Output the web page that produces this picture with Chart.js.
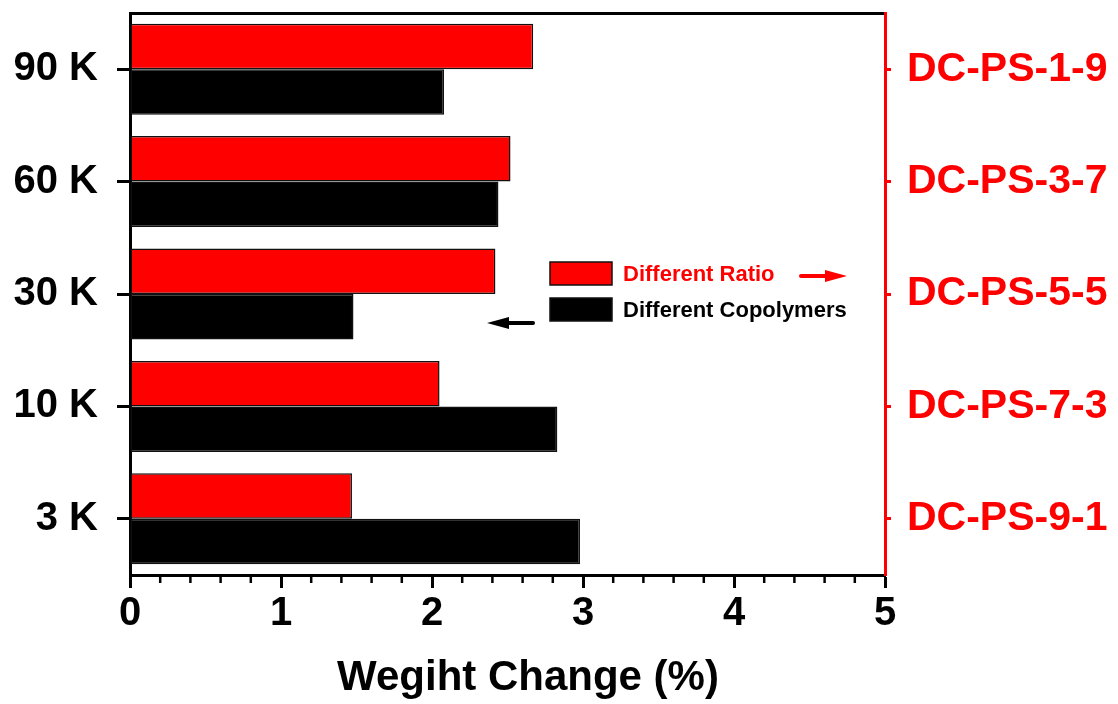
<!DOCTYPE html>
<html>
<head>
<meta charset="utf-8">
<title>Weight change</title>
<script src="https://cdn.jsdelivr.net/npm/chart.js@4.4.0/dist/chart.umd.min.js"></script>
<style>
  html, body { margin: 0; padding: 0; background: #fff; }
  #main { width: 1118px; height: 704px; }
</style>
</head>
<body>
<div id="main"><canvas id="chart"></canvas></div>
<script>
'use strict';
var copolymers = ['90 K', '60 K', '30 K', '10 K', '3 K'];
var ratios = ['DC-PS-1-9', 'DC-PS-3-7', 'DC-PS-5-5', 'DC-PS-7-3', 'DC-PS-9-1'];
var ratioChange = [2.67, 2.52, 2.42, 2.05, 1.47];
var copolymerChange = [2.08, 2.44, 1.48, 2.83, 2.98];
var xTicks = [0, 1, 2, 3, 4, 5];
var xTitle = 'Wegiht Change (%)';
var legendLabels = ['Different Ratio', 'Different Copolymers'];

var FONT = '"Liberation Sans", Arial, sans-serif';
var RED = '#ff0000';
var BLACK = '#000000';

function bold(size) {
  return { family: FONT, size: size, weight: 'bold' };
}

// short ticks between the labelled ones on the x axis
var minorTicks = {
  id: 'minorTicks',
  afterDraw: function(chart) {
    var ctx = chart.ctx;
    var x = chart.scales.x;
    var y0 = chart.chartArea.bottom;
    ctx.save();
    ctx.strokeStyle = BLACK;
    ctx.lineWidth = 2.5;
    for (var i = 0; i < xTicks.length - 1; i++) {
      for (var k = 1; k < 5; k++) {
        var px = x.getPixelForValue(xTicks[i] + (xTicks[i + 1] - xTicks[i]) * k / 5);
        ctx.beginPath();
        ctx.moveTo(px, y0);
        ctx.lineTo(px, y0 + 8);
        ctx.stroke();
      }
    }
    ctx.restore();
  }
};

function arrow(ctx, x1, x2, y, color) {
  var dir = x2 > x1 ? 1 : -1;
  ctx.strokeStyle = color;
  ctx.fillStyle = color;
  ctx.lineWidth = 4;
  ctx.lineCap = 'round';
  ctx.beginPath();
  ctx.moveTo(x1, y);
  ctx.lineTo(x2 - dir * 16, y);
  ctx.stroke();
  ctx.beginPath();
  ctx.moveTo(x2, y);
  ctx.lineTo(x2 - dir * 22, y - 6);
  ctx.lineTo(x2 - dir * 22, y + 6);
  ctx.closePath();
  ctx.fill();
}

// legend inside the plot and the axis title
var boxLegend = {
  id: 'boxLegend',
  afterDraw: function(chart) {
    var ctx = chart.ctx;
    var colors = [RED, BLACK];
    var rows = [273, 309];
    ctx.save();
    ctx.font = 'bold 22px ' + FONT;
    ctx.textBaseline = 'middle';
    ctx.textAlign = 'left';
    for (var i = 0; i < 2; i++) {
      ctx.fillStyle = colors[i];
      ctx.fillRect(550, rows[i] - 11, 62, 23);
      ctx.strokeStyle = '#111';
      ctx.lineWidth = 1.5;
      ctx.strokeRect(550, rows[i] - 11, 62, 23);
      ctx.fillStyle = colors[i];
      ctx.fillText(legendLabels[i], 623, rows[i] + 2);
    }
    arrow(ctx, 801, 847, 276, RED);
    arrow(ctx, 533, 487, 323, BLACK);

    ctx.fillStyle = BLACK;
    ctx.font = 'bold 42px ' + FONT;
    ctx.textAlign = 'center';
    ctx.textBaseline = 'alphabetic';
    ctx.fillText(xTitle, 528, 690);
    ctx.restore();
  }
};

function fitSide(width) {
  return function(scale) {
    scale.width = width;
    scale.paddingTop = 0;
    scale.paddingBottom = 0;
  };
}

var ctx = document.getElementById('chart').getContext('2d');

new Chart(ctx, {
  type: 'bar',
  data: {
    labels: copolymers,
    datasets: [
      {
        label: legendLabels[0],
        data: ratioChange,
        backgroundColor: RED,
        borderColor: '#111',
        borderWidth: 1.5,
        borderSkipped: false
      },
      {
        label: legendLabels[1],
        data: copolymerChange,
        backgroundColor: BLACK,
        borderColor: '#111',
        borderWidth: 1.5,
        borderSkipped: false
      }
    ]
  },
  options: {
    indexAxis: 'y',
    responsive: true,
    maintainAspectRatio: false,
    animation: false,
    categoryPercentage: 0.81,
    barPercentage: 1,
    layout: { padding: 0 },
    plugins: {
      legend: { display: false },
      tooltip: { enabled: false }
    },
    scales: {
      x: {
        type: 'linear',
        position: 'bottom',
        min: 0,
        max: 5,
        z: 1,
        grid: { drawOnChartArea: false, tickLength: 13, tickWidth: 3, tickColor: BLACK },
        border: { color: BLACK, width: 3 },
        ticks: { color: BLACK, font: bold(40), padding: 2 },
        afterBuildTicks: function(scale) {
          scale.ticks = xTicks.map(function(v) { return { value: v }; });
        },
        afterFit: function(scale) {
          scale.height = 129;
          scale.paddingLeft = 0;
          scale.paddingRight = 0;
        }
      },
      x2: {
        type: 'linear',
        position: 'top',
        z: 1,
        grid: { display: false, drawTicks: false },
        border: { color: BLACK, width: 3 },
        ticks: { display: false },
        afterFit: function(scale) { scale.height = 13; }
      },
      y: {
        type: 'category',
        position: 'left',
        offset: true,
        z: 1,
        grid: { drawOnChartArea: false, offset: false, tickLength: 13, tickWidth: 3, tickColor: BLACK },
        border: { color: BLACK, width: 3 },
        ticks: { color: BLACK, font: bold(40), padding: 19 },
        afterFit: fitSide(130)
      },
      y2: {
        type: 'category',
        position: 'right',
        labels: ratios,
        offset: true,
        z: 1,
        grid: { drawOnChartArea: false, offset: false, tickLength: 6, tickWidth: 3, tickColor: RED },
        border: { color: RED, width: 3 },
        ticks: { color: RED, font: bold(41), padding: 16 },
        afterFit: fitSide(233)
      }
    }
  },
  plugins: [minorTicks, boxLegend]
});
</script>
</body>
</html>
